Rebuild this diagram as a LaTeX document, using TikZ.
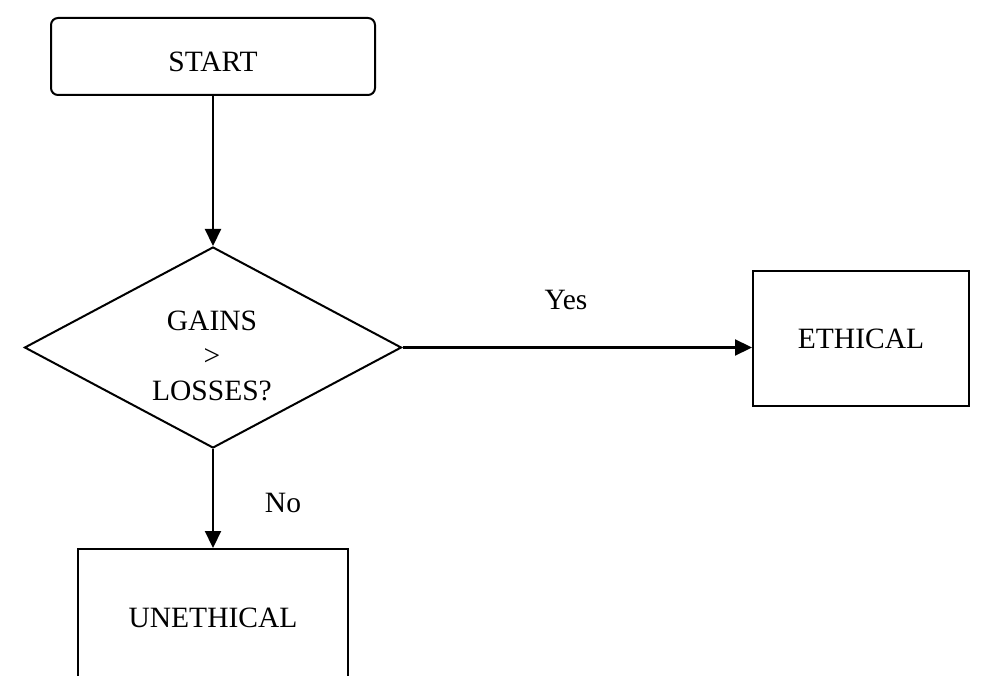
\documentclass[tikz,border=0pt]{standalone}
\usepackage{fontspec}
\setmainfont{Liberation Serif}
\usetikzlibrary{shapes.geometric,arrows.meta}
\begin{document}
\begin{tikzpicture}[x=1pt,y=-1pt,
  every node/.style={font=\fontsize{29.5}{35}\selectfont},
  box/.style={draw,line width=2pt,inner sep=0pt},
  conn/.style={line width=2.2pt,-{Triangle[length=17pt,width=16pt]}}]
\useasboundingbox (0,0) rectangle (994,676);
\clip (0,0) rectangle (994,676);
\node[box,rounded corners=7pt,minimum width=324pt,minimum height=77pt] (start) at (213,56.5) {\raisebox{-5pt}[\height][\depth]{START}};
\node[box,shape=diamond,minimum width=377pt,minimum height=201pt] (dec) at (213,347.5) {};
\node[align=center] (dectext) at (212,356) {GAINS\\>\\LOSSES?};
\node[box,minimum width=216pt,minimum height=135pt] (eth) at (861,338.5) {ETHICAL};
\node[box,minimum width=270pt,minimum height=138pt] (uneth) at (213,618) {UNETHICAL};
\draw[conn] (start.south) -- (dec.north);
\draw[conn] (dec.east) -- (dec.east -| eth.west);
\draw[conn] (dec.south) -- (uneth.north);
\node (yes) at (566,300) {Yes};
\node (no) at (283,503) {No};
\end{tikzpicture}
\end{document}
